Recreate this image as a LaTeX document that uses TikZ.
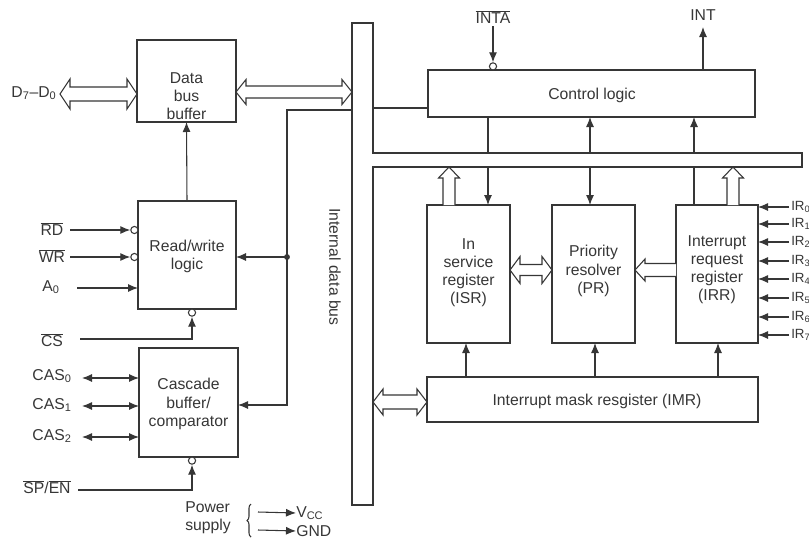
\documentclass[tikz,border=0pt]{standalone}
\usepackage{fontspec}
\setmainfont{Liberation Sans}
\usetikzlibrary{arrows.meta,calc,decorations.pathreplacing}
\definecolor{ink}{HTML}{363636}
\newcommand\ovl[1]{$\overline{\hbox{#1}}$}
\newcommand\mkbox[6][box]{\node[#1, minimum width={(#5-#3)*0.75pt}, minimum height={(#6-#4)*0.75pt}] (#2) at ({(#3+#5)/2},{(#4+#6)/2}) {};}
% horizontal double hollow arrow: #1 left tip, #2 right tip, #3 half head width, #4 half shaft width
\newcommand\hdbl[4]{\draw[hollow] (#1) -- ($(#1)+(10,-#3)$) -- ($(#1)+(10,-#4)$) -- ($(#2)+(-10,-#4)$) -- ($(#2)+(-10,-#3)$) -- (#2) -- ($(#2)+(-10,#3)$) -- ($(#2)+(-10,#4)$) -- ($(#1)+(10,#4)$) -- ($(#1)+(10,#3)$) -- cycle;}
% vertical single hollow arrow pointing up: #1 tip, #2 base
\newcommand\hup[2]{\draw[hollow] ($(#2)+(6,0)$) -- ($(#1)+(6,11)$) -- ($(#1)+(10.5,11)$) -- (#1) -- ($(#1)+(-10.5,11)$) -- ($(#1)+(-6,11)$) -- ($(#2)+(-6,0)$);}
% horizontal single hollow arrow pointing left: #1 tip, #2 base
\newcommand\hleft[2]{\draw[hollow] ($(#2)+(0,-6.5)$) -- ($(#1)+(10,-6.5)$) -- ($(#1)+(10,-11)$) -- (#1) -- ($(#1)+(10,11)$) -- ($(#1)+(10,6.5)$) -- ($(#2)+(0,6.5)$);}
\begin{document}
\begin{tikzpicture}[x=0.75pt,y=-0.75pt,
  every node/.style={font=\fontsize{11.8}{13.6}\selectfont, text=ink, inner sep=0pt},
  line/.style={draw=ink, line width=0.8pt},
  tip/.tip={Latex[length=7.5pt,width=6pt]},
  arr/.style={line, -tip},
  darr/.style={line, tip-tip},
  box/.style={draw=ink, line width=0.8pt, inner sep=0pt, outer sep=0pt},
  ghost/.style={inner sep=0pt, outer sep=0pt},
  bub/.style={circle, draw=ink, fill=white, line width=0.8pt, minimum size=5.4pt, inner sep=0pt},
  hollow/.style={draw=ink, line width=0.8pt, fill=white, line join=miter},
  irl/.style={anchor=west, font=\fontsize{10}{12}\selectfont}]
\useasboundingbox (0,0) rectangle (809,539);

% ---- boxes
\mkbox{dbb}{137}{40}{236}{122}
\mkbox{rw}{138}{201}{236}{309}
\mkbox{cas}{139}{348}{238}{457}
\mkbox{ctrl}{428}{70}{755}{117}
\mkbox{isr}{427}{205}{510}{343}
\mkbox{pr}{552}{205}{635}{343}
\mkbox{irr}{676}{205}{758}{343}
\mkbox{imr}{427}{377}{758}{422}
\mkbox[ghost]{bus}{352}{23}{373}{505}
\mkbox[ghost]{hbar}{373}{153}{802}{167}

% ---- box texts
\node[align=center] (tdbb) at (186.5,96) {Data\\bus\\buffer};
\node[align=center] (trw) at (187,256) {Read/write\\logic};
\node[align=center] (tcas) at (188.5,404) {Cascade\\buffer/\\comparator};
\node (tctrl) at (592,95) {Control logic};
\node[align=center] (tisr) at (468.5,273) {In\\service\\register\\(ISR)};
\node[align=center] (tpr) at (593.5,271) {Priority\\resolver\\(PR)};
\node[align=center] (tirr) at (717,270) {Interrupt\\request\\register\\(IRR)};
\node (timr) at (597,401) {Interrupt mask resgister (IMR)};

% ---- internal data bus (T shape)
\draw[line] (bus.north west) -- (bus.north east) -- (bus.east |- hbar.north) -- (hbar.north east)
  -- (hbar.south east) -- (bus.east |- hbar.south) -- (bus.south east) -- (bus.south west) -- cycle;
\node[rotate=-90] (tbus) at (335,267) {Internal data bus};

% ---- left side signals
\node (lD) at (34,93) {D\textsubscript{7}–D\textsubscript{0}};
\coordinate (dL) at (60,94);
\hdbl{dL}{dL -| dbb.west}{15}{7}
\coordinate (hb1) at (236,92);
\hdbl{hb1}{hb1 -| bus.west}{12.5}{6}

\draw[arr] (rw.north) -- (dbb.south);

\node (lRD) at (52,229) {\ovl{RD}};
\node (lWR) at (52,256) {\ovl{WR}};
\node (lA) at (51,287) {A\textsubscript{0}};
\node (lCS) at (52,340) {\ovl{CS}};
\node[bub] (bRD) at (134.4,230) {};
\node[bub] (bWR) at (134.4,257) {};
\coordinate (sRD) at (70,230);
\coordinate (sWR) at (70,257);
\coordinate (sA) at (77,288);
\draw[arr] (sRD) -- (bRD.west);
\draw[arr] (sWR) -- (bWR.west);
\draw[arr] (sA) -- (sA -| rw.west);
\node[bub] (bCS) at (192,312.6) {};
\coordinate (sCS) at (80,339);
\draw[arr] (sCS) -- (sCS -| bCS) -- (bCS.south);

\node (lC0) at (52,376) {CAS\textsubscript{0}};
\node (lC1) at (52,405) {CAS\textsubscript{1}};
\node (lC2) at (52,436) {CAS\textsubscript{2}};
\coordinate (c0) at (82,378);
\coordinate (c1) at (82,406);
\coordinate (c2) at (82,437);
\draw[darr] (c0) -- (c0 -| cas.west);
\draw[darr] (c1) -- (c1 -| cas.west);
\draw[darr] (c2) -- (c2 -| cas.west);

\node (lSP) at (47,487) {$\overline{\hbox{SP}}$/$\overline{\hbox{EN}}$};
\node[bub] (bSP) at (192,460.6) {};
\coordinate (sSP) at (78,490);
\draw[arr] (sSP) -- (sSP -| bSP) -- (bSP.south);

% bus to read/write and cascade
\coordinate (j0) at (287,110);
\coordinate (j1) at (287,257);
\coordinate (j2) at (287,405);
\draw[arr] (bus.west |- j0) -- (j0) -- (j2) -- (j2 -| cas.east);
\fill[ink] (j1) circle (2.2pt);
\draw[arr] (j1) -- (j1 -| rw.east);

% power supply
\node[align=left, anchor=west] (lPow) at (185,518) {Power\\supply};
\draw[line, decorate, decoration={brace, amplitude=3pt}] (251,537) -- (251,504);
\coordinate (p1) at (258,512);
\coordinate (p2) at (258,530);
\node[anchor=west] (lVcc) at (296,513) {V\textsubscript{CC}};
\node[anchor=west] (lGND) at (296,531) {GND};
\draw[arr] (p1) -- (lVcc.west);
\draw[arr] (p2) -- (lGND.west);

% ---- right side
\coordinate (cl) at (428,108);
\draw[line] (bus.east |- cl) -- (cl);

\node (lINTA) at (493,17) {\ovl{INTA}};
\node[bub] (bINTA) at (493,66.4) {};
\coordinate (sINTA) at (493,26);
\draw[arr] (sINTA) -- (bINTA.north);
\node (lINT) at (703,15) {INT};
\coordinate (eINT) at (703,27);
\draw[arr] (eINT |- ctrl.north) -- (eINT);

\coordinate (v1) at (488,0);
\coordinate (v2) at (590,0);
\coordinate (v3) at (694,0);
\draw[line] (v1 |- ctrl.south) -- (v1 |- hbar.north);
\draw[arr] (v1 |- hbar.south) -- (v1 |- isr.north);
\draw[arr] (v2 |- hbar.north) -- (v2 |- ctrl.south);
\draw[arr] (v2 |- hbar.south) -- (v2 |- pr.north);
\draw[arr] (v3 |- hbar.north) -- (v3 |- ctrl.south);
\draw[line] (v3 |- irr.north) -- (v3 |- hbar.south);

\coordinate (va) at (449,0);
\coordinate (vb) at (733,0);
\hup{va |- hbar.south}{va |- isr.north}
\hup{vb |- hbar.south}{vb |- irr.north}

\coordinate (hb2) at (510,270);
\hdbl{hb2}{hb2 -| pr.west}{13.5}{5.5}
\hleft{hb2 -| pr.east}{hb2 -| irr.west}

\coordinate (hb3) at (373,402);
\hdbl{hb3}{hb3 -| imr.west}{13}{7}

\coordinate (u1) at (466,0);
\coordinate (u2) at (595,0);
\coordinate (u3) at (718,0);
\draw[arr] (u1 |- imr.north) -- (u1 |- isr.south);
\draw[arr] (u2 |- imr.north) -- (u2 |- pr.south);
\draw[arr] (u3 |- imr.north) -- (u3 |- irr.south);

\foreach \y [count=\i from 0] in {207,224,242,261,279,298,317,335} {
  \coordinate (ir\i) at (789,\y);
  \draw[arr] (ir\i) -- (ir\i -| irr.east);
  \node[irl] (lir\i) at (791,\y) {IR\textsubscript{\i}};
}
\end{tikzpicture}
\end{document}
